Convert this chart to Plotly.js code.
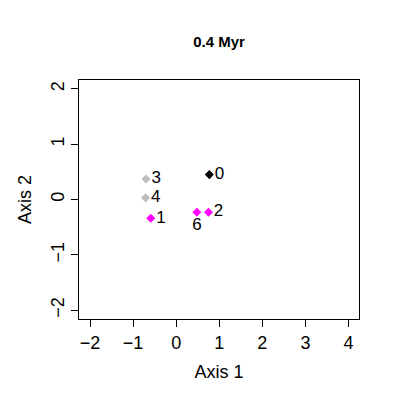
<!DOCTYPE html>
<html>
<head>
<meta charset="utf-8">
<script src="https://cdn.plot.ly/plotly-3.0.1.min.js"></script>
<style>
  html, body { margin: 0; padding: 0; background: #fff; }
  #plot { width: 399px; height: 399px; }
</style>
</head>
<body>
<div id="plot"></div>
<script>
// ordination scores at 0.4 Myr
const labels = ["0", "1", "2", "3", "4", "6"];
const axis1 = [0.77, -0.59, 0.75, -0.70, -0.71, 0.48];
const axis2 = [0.45, -0.34, -0.23, 0.37, 0.03, -0.23];
const groups = ["black", "magenta", "magenta", "gray", "gray", "magenta"];

const colorMap = { black: "#000000", magenta: "#FF00FF", gray: "#BEBEBE" };
const textPos = labels.map(l => l === "6" ? "bottom center" : "middle right");

const data = [{
    x: axis1,
    y: axis2,
    text: labels,
    mode: "markers+text",
    type: "scatter",
    textposition: textPos,
    textfont: { family: "Liberation Sans, Arial, sans-serif", size: 17, color: "#000" },
    marker: {
        symbol: "diamond",
        size: 7,
        color: groups.map(g => colorMap[g])
    },
    cliponaxis: false,
    hoverinfo: "none"
}];

const tickFont = { family: "Liberation Sans, Arial, sans-serif", size: 18, color: "#000" };

const layout = {
    width: 399,
    height: 399,
    margin: { l: 79, r: 40, t: 80, b: 80 },
    paper_bgcolor: "#fff",
    plot_bgcolor: "#fff",
    showlegend: false,
    font: tickFont,
    title: {
        text: "<b>0.4 Myr</b>",
        font: { family: "Liberation Sans, Arial, sans-serif", size: 15, color: "#000" },
        x: 0.5, xanchor: "center",
        y: 1 - 42 / 399, yanchor: "middle",
        xref: "paper", yref: "container"
    },
    xaxis: {
        range: [-2.256, 4.244],
        tickvals: [-2, -1, 0, 1, 2, 3, 4],
        ticktext: ["\u22122", "\u22121", "0", "1", "2", "3", "4"],
        ticks: "outside",
        ticklen: 7,
        tickcolor: "#000",
        showline: true,
        linecolor: "#000",
        linewidth: 1,
        mirror: true,
        showgrid: false,
        zeroline: false,
        tickfont: tickFont,
        title: { text: "Axis 1", font: tickFont, standoff: 13 },
        automargin: false
    },
    yaxis: {
        range: [-2.16, 2.16],
        tickvals: [-2, -1, 0, 1, 2],
        ticktext: ["\u22122", "\u22121", "0", "1", "2"],
        tickangle: -90,
        ticks: "outside",
        ticklen: 7,
        tickcolor: "#000",
        showline: true,
        linecolor: "#000",
        linewidth: 1,
        mirror: true,
        showgrid: false,
        zeroline: false,
        tickfont: tickFont,
        title: { text: "Axis 2", font: tickFont, standoff: 11 },
        automargin: false
    }
};

Plotly.newPlot("plot", data, layout, { displayModeBar: false, staticPlot: true });
</script>
</body>
</html>
